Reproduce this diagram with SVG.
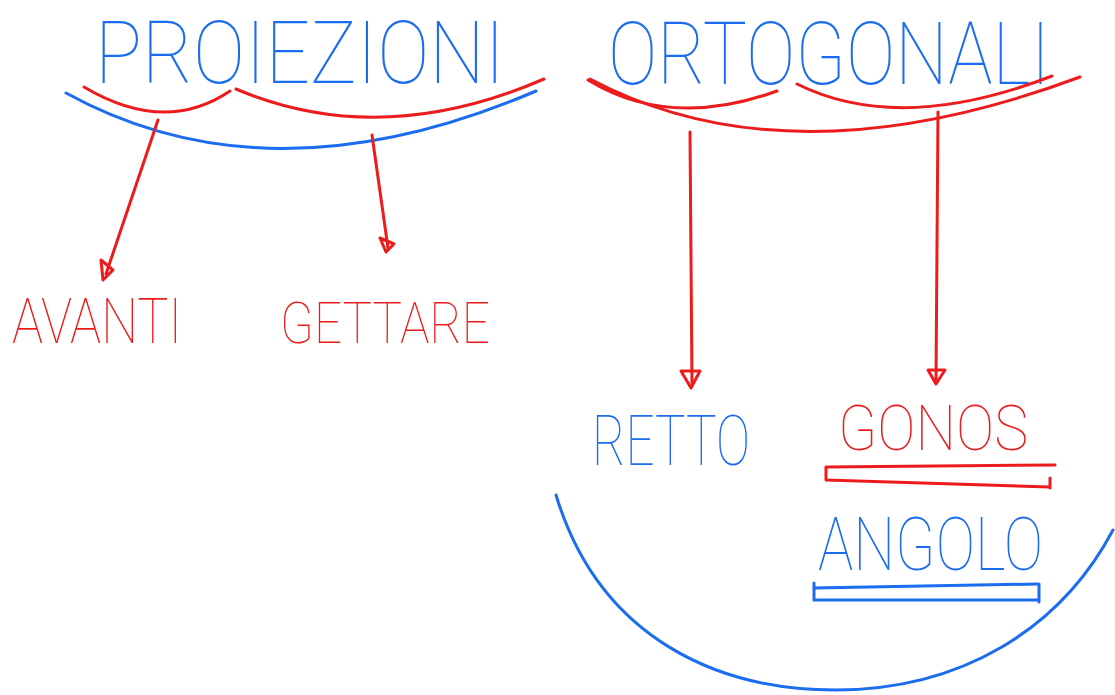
<svg xmlns="http://www.w3.org/2000/svg" width="1115" height="695" viewBox="0 0 1115 695">
<style>
.b{fill:#1c6cf0}
.r{fill:#ec1c1c}
.t{font-family:Roboto,"Liberation Sans",sans-serif;font-weight:100}
.sb{fill:none;stroke:#1c6cf0;stroke-width:3;stroke-linecap:round;stroke-linejoin:round}
.sr{fill:none;stroke:#ec1c1c;stroke-width:3;stroke-linecap:round;stroke-linejoin:round}
</style>
<rect width="1115" height="695" fill="#ffffff"/>
<g id="proiezioni"><text class="t b" x="95" y="83" font-size="88" textLength="410" lengthAdjust="spacingAndGlyphs">PROIEZIONI</text></g>
<g id="ortogonali" transform="scale(1,1.2222)"><text class="t b" x="608" y="68.7" font-size="72" textLength="442" lengthAdjust="spacingAndGlyphs">ORTOGONALI</text></g>
<g id="avanti"><text class="t r" x="12" y="343" font-size="63" textLength="170" lengthAdjust="spacingAndGlyphs">AVANTI</text></g>
<g id="gettare"><text class="t r" x="280" y="343" font-size="57" textLength="210" lengthAdjust="spacingAndGlyphs">GETTARE</text></g>
<g id="retto"><text class="t b" x="592" y="465" font-size="70" textLength="158" lengthAdjust="spacingAndGlyphs">RETTO</text></g>
<g id="gonos"><text class="t r" x="838" y="450" font-size="63" textLength="190" lengthAdjust="spacingAndGlyphs">GONOS</text>
<path class="sr" d="M826,467 L1055,465 M826,467 L826,480 L1050,487 M1050,478 L1050,488"/></g>
<g id="angolo"><text class="t b" x="818" y="570" font-size="75" textLength="225" lengthAdjust="spacingAndGlyphs">ANGOLO</text>
<path class="sb" d="M814,588 L1037,584 M814,583 L814,600 L1038,600 M1039,584 L1039,602"/></g>
<g id="connectors">
<path class="sb" d="M66,93 Q270,205 536,91"/>
<path class="sr" d="M84,87 Q165,135 230,91"/>
<path class="sr" d="M236,89 Q380,150 544,79"/>
<path class="sr" d="M158,120 L106,274"/>
<path class="sr" d="M101,260 L113,270 L103,280 Z"/>
<path class="sr" d="M372,135 L388,248"/>
<path class="sr" d="M380,238 L394,244 L386,252 Z"/>
<path class="sr" d="M588,80 Q670,130 777,91"/>
<path class="sr" d="M797,84 Q900,135 1052,76"/>
<path class="sr" d="M590,79 Q790,185 1080,77"/>
<path class="sr" d="M690,132 L692,384"/>
<path class="sr" d="M681,371 L700,371 L691,388 Z"/>
<path class="sr" d="M938,112 L936,382"/>
<path class="sr" d="M928,370 L945,370 L936,384 Z"/>
<path class="sb" d="M556,495 C600,640 720,690 835,690 C960,690 1060,630 1113,530"/>
</g>
</svg>
